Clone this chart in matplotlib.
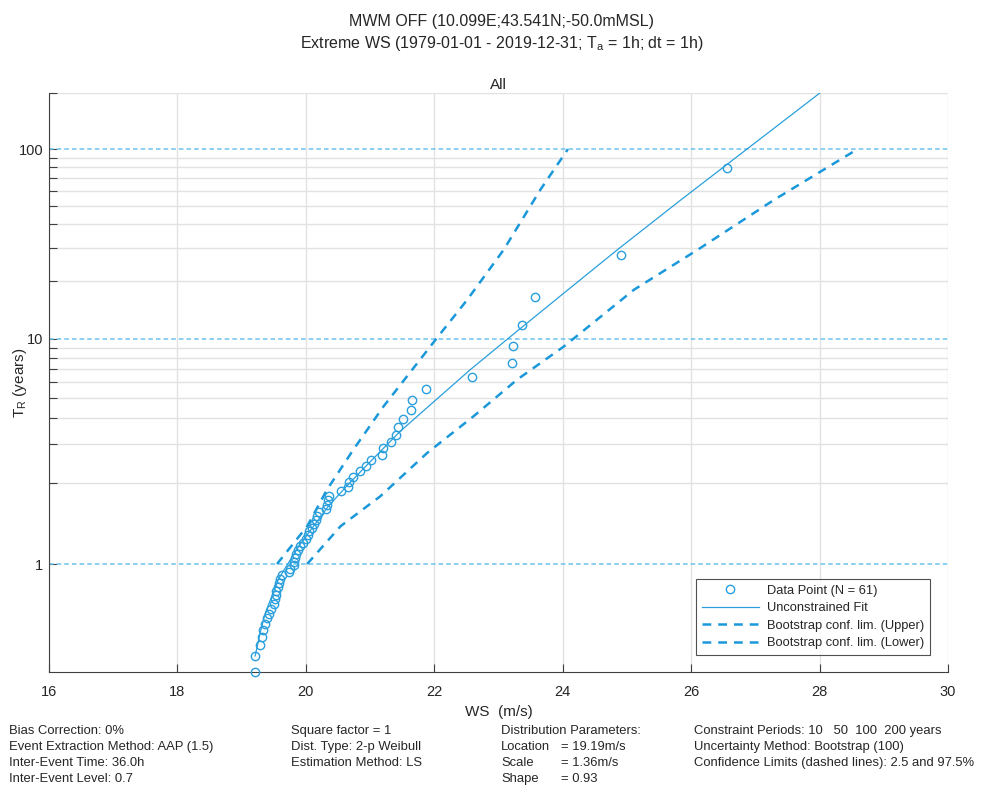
import numpy as np
import matplotlib
matplotlib.use("Agg")
import matplotlib.pyplot as plt
from matplotlib.ticker import FixedLocator, NullFormatter

# events per year (61 events in 41 years)
RATE = 61 / 41

# data points (WS [m/s], return period [years])
ws_data = [26.56, 24.91, 23.57, 23.37, 23.23, 23.21, 22.58, 21.87, 21.66, 21.63,
           21.51, 21.44, 21.40, 21.33, 21.20, 21.19, 21.02, 20.93, 20.84, 20.74,
           20.67, 20.66, 20.55, 20.36, 20.34, 20.33, 20.32, 20.20, 20.18, 20.15,
           20.12, 20.09, 20.05, 20.03, 20.00, 19.95, 19.91, 19.88, 19.85, 19.83,
           19.82, 19.81, 19.75, 19.73, 19.63, 19.60, 19.58, 19.56, 19.54, 19.53,
           19.52, 19.50, 19.46, 19.42, 19.39, 19.36, 19.33, 19.32, 19.29, 19.21,
           19.21]
tr_data = [79.5, 27.3, 16.5, 11.8, 9.17, 7.50, 6.37, 5.52, 4.87, 4.34,
           3.94, 3.59, 3.31, 3.06, 2.86, 2.67, 2.51, 2.36, 2.24, 2.12,
           2.02, 1.92, 1.85, 1.76, 1.69, 1.62, 1.557, 1.509, 1.456, 1.414,
           1.366, 1.317, 1.277, 1.239, 1.200, 1.166, 1.136, 1.108, 1.076, 1.044,
           1.013, 0.995, 0.969, 0.949, 0.930, 0.912, 0.891, 0.871, 0.852, 0.834,
           0.818, 0.802, 0.786, 0.771, 0.758, 0.745, 0.731, 0.719, 0.706, 0.694,
           0.6824]

# unconstrained fit
ws_fit = [19.21, 19.29, 19.37, 19.47, 19.57, 19.73, 19.89, 20.10, 20.35, 20.61,
          20.93, 21.47, 22.56, 23.19, 24.02, 24.85, 25.84, 28.01]
tr_fit = [0.694, 0.727, 0.774, 0.831, 0.908, 1.0085, 1.136, 1.317, 1.594, 1.900,
          2.36, 3.44, 6.94, 10.28, 17.3, 29.2, 53.7, 200.0]

# bootstrap confidence limits
ws_upper = [19.55, 20.02, 20.33, 20.74, 21.21, 22.04, 22.51, 23.08, 23.65, 24.08]
tr_upper = [1.0, 1.335, 1.869, 2.818, 4.545, 10.08, 15.9, 29.2, 60.7, 100.0]
ws_lower = [20.02, 20.54, 21.16, 21.89, 22.61, 23.29, 24.02, 25.11, 26.10, 27.29, 28.59]
tr_lower = [1.0, 1.335, 1.752, 2.720, 4.06, 6.18, 9.13, 18.0, 29.2, 53.7, 100.0]

x_ticks = [16, 18, 20, 22, 24, 26, 28, 30]
y_ticks = [1, 10, 100]
y_minor = [2, 3, 4, 5, 6, 7, 8, 9, 20, 30, 40, 50, 60, 70, 80, 90, 200]

col1 = ["Bias Correction: 0%", "Event Extraction Method: AAP (1.5)",
        "Inter-Event Time: 36.0h", "Inter-Event Level: 0.7"]
col2 = ["Square factor = 1", "Dist. Type: 2-p Weibull", "Estimation Method: LS"]
col3a = ["Distribution Parameters:", "Location", "Scale", "Shape"]
col3b = ["", "= 19.19m/s", "= 1.36m/s", "= 0.93"]
col4 = ["Constraint Periods: 10   50  100  200 years",
        "Uncertainty Method: Bootstrap (100)",
        "Confidence Limits (dashed lines): 2.5 and 97.5%"]


def fwd(t):
    t = np.asarray(t, dtype=float)
    p = np.clip(1.0 / (RATE * np.maximum(t, 1e-9)), 1e-12, 1 - 1e-12)
    return -np.log(-np.log(1.0 - p))


def inv(g):
    g = np.asarray(g, dtype=float)
    p = 1.0 - np.exp(-np.exp(-g))
    return 1.0 / (RATE * np.maximum(p, 1e-15))


plt.rcParams['font.family'] = ['Liberation Sans', 'DejaVu Sans']
BLUE = '#2a9fdc'
fig = plt.figure(figsize=(10.03, 7.87), dpi=100)
ax = fig.add_axes([0.0489, 0.1461, 0.8963, 0.7361])
ax.set_yscale('function', functions=(fwd, inv))
ax.set_xlim(16, 30)
ax.set_ylim(0.6822, 200)

for y in y_ticks:
    ax.axhline(y, color='#6cc4ea', lw=1.1, ls=(0, (3, 2)), zorder=1)

ax.plot(ws_data, tr_data, 'o', mfc='none', mec=BLUE, ms=6, mew=1.0,
        label='Data Point (N = 61)', zorder=4, clip_on=False)
ax.plot(ws_fit, tr_fit, '-', color=BLUE, lw=0.9, label='Unconstrained Fit', zorder=3)
ax.plot(ws_upper, tr_upper, color='#1a98da', lw=1.8, dashes=(3.5, 2.8),
        label='Bootstrap conf. lim. (Upper)', zorder=3)
ax.plot(ws_lower, tr_lower, color='#1a98da', lw=1.8, dashes=(3.5, 2.8),
        label='Bootstrap conf. lim. (Lower)', zorder=3)

ax.xaxis.set_major_locator(FixedLocator(x_ticks))
ax.yaxis.set_major_locator(FixedLocator(y_ticks))
ax.yaxis.set_minor_locator(FixedLocator(y_minor))
ax.yaxis.set_minor_formatter(NullFormatter())
ax.set_yticklabels([str(v) for v in y_ticks])
ax.xaxis.set_minor_locator(FixedLocator([]))
ax.grid(axis='x', which='major', color='#e2e2e2', lw=1.0, zorder=0)
ax.grid(axis='y', which='minor', color='#e2e2e2', lw=1.0, zorder=0)
ax.tick_params(which='both', direction='in', length=6, width=0.8, color='#404040',
               labelsize=10.5, labelcolor='#262626', top=False, right=False)
ax.tick_params(axis='x', pad=9)
ax.tick_params(axis='y', pad=4)
for s in ('top', 'right'):
    ax.spines[s].set_visible(False)
for s in ('left', 'bottom'):
    ax.spines[s].set_color('#404040')
    ax.spines[s].set_linewidth(0.8)
ax.set_axisbelow(True)

ax.set_xlabel('WS  (m/s)', fontsize=11, color='#262626', labelpad=5)
ax.set_ylabel('T$_\\mathregular{R}$ (years)', fontsize=11, color='#262626')
ax.yaxis.set_label_coords(-0.022, 0.5)
ax.set_title('All', fontsize=11, color='#262626', pad=3)

fig.text(0.5, 0.973, 'MWM OFF (10.099E;43.541N;-50.0mMSL)', ha='center', va='center',
         fontsize=11.5, color='#262626')
fig.text(0.5, 0.945, 'Extreme WS (1979-01-01 - 2019-12-31; T$_\\mathregular{a}$ = 1h; dt = 1h)',
         ha='center', va='center', fontsize=11.5, color='#262626')

leg = ax.legend(loc='lower right', bbox_to_anchor=(0.9795, 0.0295), fontsize=9.3,
                frameon=True, fancybox=False, edgecolor='#262626', borderpad=0.45,
                labelspacing=0.42, handlelength=4.4, handletextpad=0.6, borderaxespad=0)
leg.get_frame().set_linewidth(0.8)
for t in leg.get_texts():
    t.set_color('#262626')

row_y = [731, 747, 763, 779]
for col_x, lines in [(9, col1), (291, col2), (501, col3a), (561, col3b), (694, col4)]:
    for i, s in enumerate(lines):
        fig.text(col_x / 1003, 1 - row_y[i] / 787, s, ha='left', va='center',
                 fontsize=9.4, color='#262626')

fig.savefig('out.png', dpi=100)
